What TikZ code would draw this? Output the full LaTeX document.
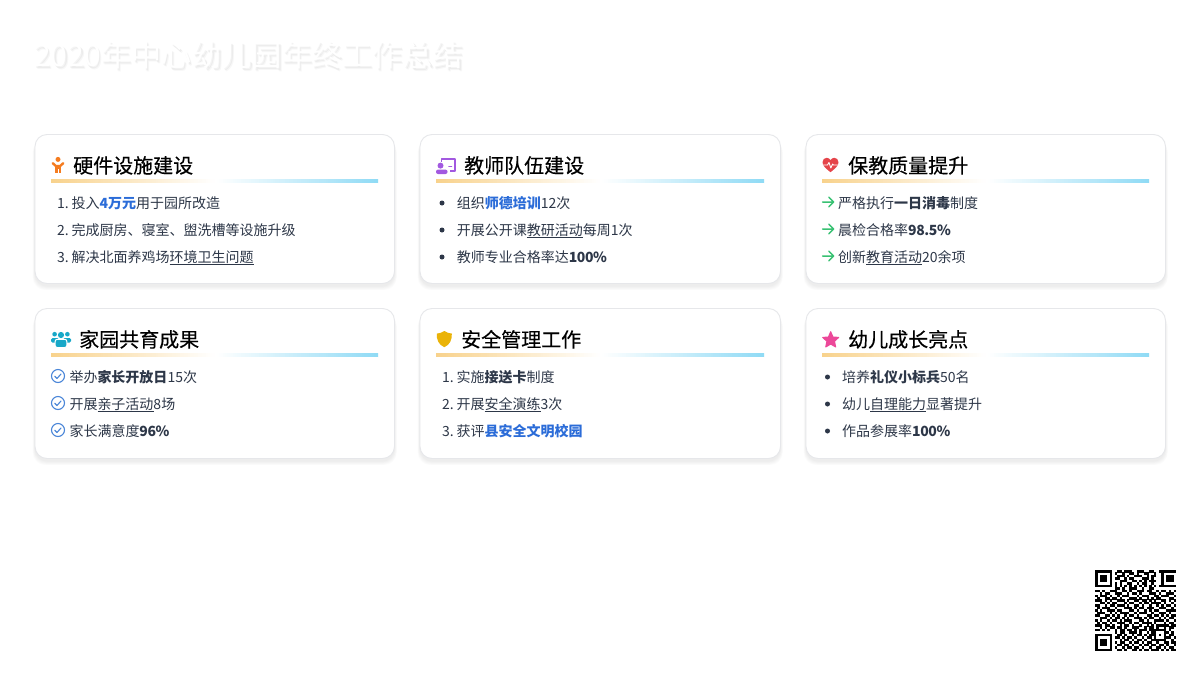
\documentclass[tikz,border=0pt]{standalone}
\usepackage{fontspec}
\setmainfont{Noto Sans CJK SC}
\newfontfamily\headfont[FakeBold=0.3]{Noto Sans CJK SC}
\usetikzlibrary{calc}
\definecolor{ink}{HTML}{2D3748}
\definecolor{hilite}{HTML}{2B6CD8}
\definecolor{barL}{HTML}{F8D28C}
\definecolor{barR}{HTML}{8EDAF5}
\definecolor{edge}{HTML}{E6E7EA}
\definecolor{icoO}{HTML}{F57C20}
\definecolor{icoP}{HTML}{A259E0}
\definecolor{icoR}{HTML}{E5444A}
\definecolor{icoC}{HTML}{18A8C8}
\definecolor{icoY}{HTML}{EAB308}
\definecolor{icoK}{HTML}{EC4899}
\definecolor{icoG}{HTML}{38C172}
\definecolor{icoB}{HTML}{4A86D8}
\newcommand{\ulx}[1]{\setbox0=\hbox{#1}\rlap{\rule[-2.6pt]{\wd0}{0.9pt}}\box0 }
\newcommand{\hb}[1]{\textcolor{hilite}{\textbf{#1}}}
\newcommand{\bdig}[1]{{\addfontfeatures{LetterSpace=-3}\textbf{#1}}}
\newcommand{\drawcard}[6]{% name x0 y0 x1 y1 bar-y
  \foreach \s in {6,5,4,3,2,1}{
    \fill[black,opacity=.012,rounded corners=13pt]
      ($(#2,#3)+(-\s*.4,\s*.5+2)$) rectangle ($(#4,#5)+(\s*.4,\s*.7+2.5)$);
  }
  \node[cardbox,minimum width=#4pt-#2pt,minimum height=#5pt-#3pt,anchor=north west] (#1) at (#2,#3) {};
  \pgfmathsetmacro{\barA}{#2+16}
  \pgfmathsetmacro{\barW}{(#4-#2-32.5)/2}
  \foreach \k in {0,...,81}{
    \pgfmathtruncatemacro{\pL}{100-\k*100/81}
    \fill[barL!\pL!white] (\barA+\k*\barW/81,#6) rectangle (\barA+\k*\barW/81+\barW/81+.25,#6+4);
    \pgfmathtruncatemacro{\pR}{\k*100/81}
    \fill[barR!\pR!white] (\barA+\barW+\k*\barW/81,#6) rectangle ({min(\barA+\barW+\k*\barW/81+\barW/81+.25,\barA+2*\barW)},#6+4);
  }
}
\newcount\qx
\newcount\qy
\def\qrscan#1{\ifx#1.\else\if#11\fill[black] (1095+\the\qx*2.4545-.04,570+\the\qy*2.4545-.04) rectangle ++(2.5345,2.5345);\fi\global\advance\qx 1 \expandafter\qrscan\fi}
\newcommand{\qrrow}[1]{\global\qx=0 \qrscan#1.\global\advance\qy 1 }
\tikzset{
  x=1pt,y=-1pt,
  cardbox/.style={draw=edge,line width=.9pt,fill=white,rounded corners=12pt,inner sep=0pt,outer sep=0pt},
  ttl/.style={anchor=base west,inner sep=0pt,text=black,font=\headfont\fontsize{20}{24}\selectfont},
  li/.style={anchor=base west,inner sep=0pt,text=ink,font=\fontsize{14}{18}\selectfont},
  dotmark/.style={fill=ink,draw=none,circle,minimum size=5pt,inner sep=0pt},
  chk/.style={draw=icoB,line width=1.1pt,circle,minimum size=13pt,inner sep=0pt},
}
\begin{document}
\begin{tikzpicture}
\useasboundingbox (0,0) rectangle (1200,675);
\fill[white] (0,0) rectangle (1200,675);
% title
\node[anchor=base west,inner sep=0pt,text=black,text opacity=.045,font=\fontsize{30.15}{36}\selectfont] (titleshadeA) at (35.5,68) {2020年中心幼儿园年终工作总结};
\node[anchor=base west,inner sep=0pt,text=black,text opacity=.03,font=\fontsize{30.15}{36}\selectfont] (titleshadeB) at (36.5,69) {2020年中心幼儿园年终工作总结};
\node[anchor=base west,inner sep=0pt,text=white,font=\fontsize{30.15}{36}\selectfont] (title) at (34,66) {2020年中心幼儿园年终工作总结};
% cards
\drawcard{c1}{35}{134.5}{394.5}{283.5}{179}
\drawcard{c2}{420}{134.5}{780.5}{283.5}{179}
\drawcard{c3}{806}{134.5}{1165.5}{283.5}{179}
\drawcard{c4}{35}{308.5}{394.5}{458.5}{353}
\drawcard{c5}{420}{308.5}{780.5}{458.5}{353}
\drawcard{c6}{806}{308.5}{1165.5}{458.5}{353}
% titles
\node[ttl] (t1) at (73,173) {硬件设施建设};
\node[ttl] (t2) at (464,173) {教师队伍建设};
\node[ttl] (t3) at (848,173) {保教质量提升};
\node[ttl] (t4) at (79,347) {家园共育成果};
\node[ttl] (t5) at (461,347) {安全管理工作};
\node[ttl] (t6) at (848,347) {幼儿成长亮点};
% icon: child
\fill[icoO] (58,159.4) circle (2.5);
\draw[icoO,line width=2.4pt,line cap=round,line join=round] (52.8,163.2)--(55.8,166)--(60.2,166)--(63.2,163.2);
\fill[icoO] (55.4,165.5) rectangle (60.6,173);
\fill[white] (57.7,169) rectangle (58.3,173);
% icon: teacher
\draw[icoP,line width=1.8pt,line join=round] (441.5,161.5) -- (441.5,158.8) -- (455.1,158.8) -- (455.1,170.8) -- (449.5,170.8);
\draw[icoP,line width=1.6pt,line cap=round] (449,166.5) -- (451.5,166.5);
\fill[icoP] (440.5,165.6) circle (3);
\fill[icoP,rounded corners=2pt] (436,174) -- (436,169.6) -- (447.5,169.6) -- (447.5,174) -- cycle;
% icon: heart
\fill[icoR] (830.5,172.2) .. controls (826,168.5) and (822.5,166) .. (822.5,162.2) .. controls (822.5,159.5) and (824.5,157.8) .. (826.7,157.8) .. controls (828.4,157.8) and (829.8,158.8) .. (830.5,160.2) .. controls (831.2,158.8) and (832.6,157.8) .. (834.3,157.8) .. controls (836.5,157.8) and (838.5,159.5) .. (838.5,162.2) .. controls (838.5,166) and (835,168.5) .. (830.5,172.2) -- cycle;
\draw[white,line width=.9pt,line join=round] (823,165)--(827.5,165)--(829,162.5)--(830.8,168)--(832.6,164)--(833.6,165)--(838,165);
% icon: users
\fill[icoC] (61,335) circle (3.1);
\fill[icoC] (54.6,334.2) circle (2.3);
\fill[icoC] (67.4,334.2) circle (2.3);
\fill[icoC,rounded corners=1.5pt] (51,342.5) -- (51,338) -- (59,338) -- (59,342.5) -- cycle;
\fill[icoC,rounded corners=1.5pt] (63,342.5) -- (63,338) -- (71.2,338) -- (71.2,342.5) -- cycle;
\filldraw[fill=icoC,draw=white,line width=1pt,rounded corners=2pt] (55.2,347.5) -- (55.2,339.3) -- (66.8,339.3) -- (66.8,347.5) -- cycle;
% icon: shield
\fill[icoY] (444.3,331) .. controls (446.5,332.6) and (449,333.3) .. (451.8,333.6) .. controls (452.2,339.5) and (450,344.8) .. (444.3,347.2) .. controls (438.6,344.8) and (436.4,339.5) .. (436.8,333.6) .. controls (439.6,333.3) and (442.1,332.6) .. (444.3,331) -- cycle;
% icon: star
\filldraw[icoK,line width=1pt,line join=round,shift={(830.7,340)}] (0,-8.3)
  -- (2.3,-3) -- (8,-2.6) -- (3.8,1.3) -- (5,7) -- (0,4.1) -- (-5,7) -- (-3.8,1.3) -- (-8,-2.6) -- (-2.3,-3) -- cycle;
% card 1
\node[li] (a1) at (57,208) {1. \hspace{-1.4pt}投入\hb{4万元}用于园所改造};
\node[li] (a2) at (57,235) {2. \hspace{-1.4pt}完成厨房、寝室、盥洗槽等设施升级};
\node[li] (a3) at (57,262) {3. \hspace{-1.4pt}解决北面养鸡场\ulx{环境卫生问题}};
% card 2
\foreach \n/\yy in {1/203,2/230,3/257}{\node[dotmark] (b\n) at (442,\yy) {};}
\node[li] (bt1) at (456.6,208) {组织\hb{师德培训}12次};
\node[li] (bt2) at (456.6,235) {开展公开课\ulx{教研活动}每周1次};
\node[li] (bt3) at (456.6,262) {教师专业合格率达\bdig{100\%}};
% card 3
\foreach \yy in {202,229,256}{
  \draw[icoG,line width=1.5pt,line join=round,line cap=round] (822.5,\yy)--(833.5,\yy) (828.8,\yy-4.8)--(833.6,\yy)--(828.8,\yy+4.8);
}
\node[li] (ct1) at (838,208) {严格执行\textbf{一日消毒}制度};
\node[li] (ct2) at (838,235) {晨检合格率\bdig{98.5\%}};
\node[li] (ct3) at (838,262) {创新\ulx{教育活动}20余项};
% card 4
\foreach \n/\yy in {1/376,2/403,3/430}{
  \node[chk] (d\n) at (58,\yy) {};
  \draw[icoB,line width=1.1pt,line cap=round,line join=round] (54.8,\yy+.3)--(57,\yy+2.5)--(61,\yy-2);
}
\node[li] (dt1) at (69.3,382) {举办\textbf{家长开放日}15次};
\node[li] (dt2) at (69.3,409) {开展\ulx{亲子活动}8场};
\node[li] (dt3) at (69.3,436) {家长满意度\bdig{96\%}};
% card 5
\node[li] (e1) at (442,382) {1. \hspace{-1.4pt}实施\textbf{接送卡}制度};
\node[li] (e2) at (442,409) {2. \hspace{-1.4pt}开展\ulx{安全演练}3次};
\node[li] (e3) at (442,436) {3. \hspace{-1.4pt}获评\hb{县安全文明校园}};
% card 6
\foreach \n/\yy in {1/377,2/404,3/431}{\node[dotmark] (f\n) at (827.5,\yy) {};}
\node[li] (ft1) at (842,382) {培养\textbf{礼仪小标兵}50名};
\node[li] (ft2) at (842,409) {幼儿\ulx{自理能力}显著提升};
\node[li] (ft3) at (842,436) {作品参展率\bdig{100\%}};
% QR
\qrrow{111111100110111001110011001111111}
\qrrow{100000101001001101001100100100000}
\qrrow{101110100111010011100101100101110}
\qrrow{101110101100101100011101000101110}
\qrrow{101110100011100110101011100101110}
\qrrow{100000101010011001011001000100000}
\qrrow{111111101010101010101010101111111}
\qrrow{000000001101001110010011000000000}
\qrrow{110100111001101001110110010110101}
\qrrow{001011001110010110100011101001110}
\qrrow{101110100101110001011100110111001}
\qrrow{010011011010001110100101011000110}
\qrrow{111010100111010011011010100110101}
\qrrow{001101011000101100101101111010010}
\qrrow{110010110111010011010010010101101}
\qrrow{010111001000111010110111001110010}
\qrrow{101001110110001101001010110001111}
\qrrow{011100101011110010111001001110100}
\qrrow{110011010100101101000110110101011}
\qrrow{001110101101010011101011001010110}
\qrrow{101001011010111000110100111101001}
\qrrow{010110100111001011011110100010110}
\qrrow{111011010010110100100101011111011}
\qrrow{001010110110100111001011010010110}
\qrrow{110101001011011010111011111110100}
\qrrow{000000001011001110100101100011010}
\qrrow{111111100110100101101011101010110}
\qrrow{100000101101011010010110100011101}
\qrrow{101110100010110101101001111110010}
\qrrow{101110101011001011010110010011011}
\qrrow{101110100110110100101101101101001}
\qrrow{100000101001011011010010011010110}
\qrrow{111111100110100110101101110101011}
\end{tikzpicture}
\end{document}
